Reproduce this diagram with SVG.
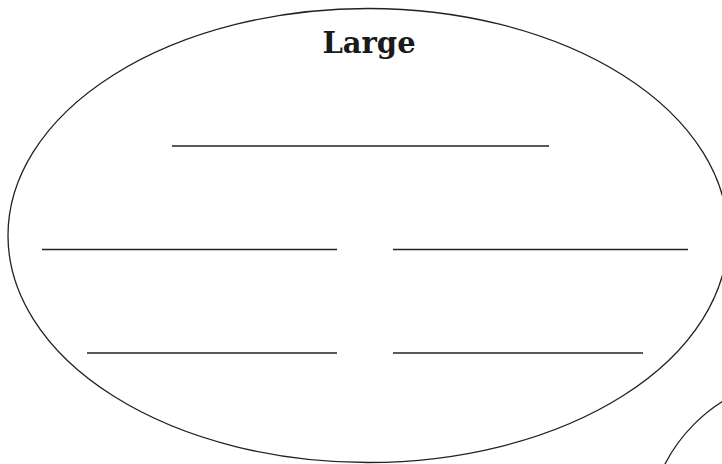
<svg xmlns="http://www.w3.org/2000/svg" width="722" height="464" viewBox="0 0 722 464">
  <style>
    .shape { fill: none; stroke: #222; stroke-width: 1.3; }
    .rule { stroke: #222; stroke-width: 1.4; }
    .title { font-family: "DejaVu Serif", "Liberation Serif", serif; font-weight: bold; font-size: 29px; fill: #1a1a1a; text-anchor: middle; }
  </style>
  <rect width="722" height="464" fill="#fff"/>
  <g id="large">
    <ellipse class="shape" cx="368" cy="235.5" rx="360" ry="227"/>
    <text class="title" x="369" y="53">Large</text>
    <line class="rule" x1="172" y1="146" x2="549" y2="146"/>
    <line class="rule" x1="42" y1="249.5" x2="337" y2="249.5"/>
    <line class="rule" x1="393" y1="249.5" x2="688" y2="249.5"/>
    <line class="rule" x1="87" y1="353" x2="337" y2="353"/>
    <line class="rule" x1="393" y1="353" x2="643" y2="353"/>
  </g>
  <g id="second">
    <ellipse class="shape" cx="808" cy="538" rx="161" ry="161"/>
  </g>
  <g id="connectors"></g>
</svg>
